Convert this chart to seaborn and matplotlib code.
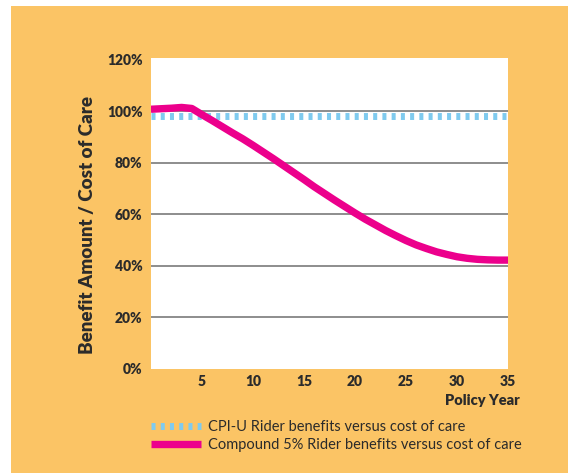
import numpy as np
import pandas as pd
import seaborn as sns
import matplotlib
matplotlib.use("Agg")
from matplotlib import pyplot as plt
from matplotlib.lines import Line2D
from matplotlib.patches import Rectangle

# data
years = list(range(0, 36))
compound_5 = [100.7, 100.9, 101.1, 101.4, 101.0, 98.6, 96.3, 93.9, 91.5, 89.2,
              86.7, 84.1, 81.5, 78.8, 76.1, 73.4, 70.6, 68.0, 65.4, 62.9,
              60.4, 58.0, 55.8, 53.6, 51.6, 49.7, 48.0, 46.6, 45.3, 44.3,
              43.4, 42.8, 42.4, 42.2, 42.1, 42.1]
cpi_u = [98.0] * len(years)
x_ticks = [5, 10, 15, 20, 25, 30, 35]
y_ticks = [0, 20, 40, 60, 80, 100, 120]
grid_vals = [20, 40, 60, 80, 100]
series_names = ["CPI-U Rider benefits versus cost of care",
                "Compound 5% Rider benefits versus cost of care"]

ORANGE = "#FBC465"
PINK = "#EC008C"
BLUE = "#7FCBEF"
TXT = "#2b2b2b"

sns.set_style("white")
plt.rcParams["font.family"] = ["Lato", "DejaVu Sans"]

df = pd.DataFrame({"year": years, "cpi": cpi_u, "comp": compound_5})

fig = plt.figure(figsize=(5.68, 4.73), dpi=100)
fig.patch.set_facecolor("white")
fig.patches.append(Rectangle((11 / 568, 0), 1, 1 - 6 / 473, transform=fig.transFigure,
                             facecolor=ORANGE, edgecolor="none", zorder=-5))

ax = fig.add_axes([151 / 568, 1 - 368.5 / 473, 357 / 568, 310.5 / 473])
ax.set_facecolor("white")

for g in grid_vals:
    ax.axhline(g, color="#7a7a7a", lw=1.2, zorder=1)

sns.lineplot(data=df, x="year", y="cpi", ax=ax, color=BLUE, lw=5.0,
             linestyle=(0, (0.58, 0.75)), zorder=2)
sns.lineplot(data=df, x="year", y="comp", ax=ax, color=PINK, lw=5.3, zorder=3,
             solid_capstyle="butt", solid_joinstyle="round")

ax.set_xlim(0, 35)
ax.set_ylim(0, 120.6)
ax.set_xticks(x_ticks)
ax.set_yticks(y_ticks)
ax.set_yticklabels([f"{v}%" for v in y_ticks])
for s in ax.spines.values():
    s.set_visible(False)
ax.tick_params(axis="x", length=0, pad=5, labelsize=10, labelcolor=TXT)
ax.tick_params(axis="y", length=3, width=1.2, color="#7a7a7a", pad=3, labelsize=10, labelcolor=TXT)
for lab in ax.get_xticklabels() + ax.get_yticklabels():
    lab.set_fontweight("heavy")
ax.set_xlabel("")
ax.set_ylabel("")

fig.text(520 / 568, 1 - 400 / 473, "Policy Year", ha="right", va="center",
         fontsize=10.5, fontweight="heavy", color=TXT)
fig.text(88 / 568, 1 - 225 / 473, "Benefit Amount / Cost of Care", rotation=90,
         ha="center", va="center", fontsize=13.5, fontweight="heavy", color=TXT)

handles = [Line2D([0], [0], color=BLUE, lw=5.0, linestyle=(0, (0.58, 0.75))),
           Line2D([0], [0], color=PINK, lw=5.3, solid_capstyle="butt")]
leg = fig.legend(handles, series_names, loc="upper left",
                 bbox_to_anchor=(138 / 568, 1 - 407 / 473), frameon=False,
                 fontsize=10.5, handlelength=3.4, handletextpad=0.5, labelspacing=0.25)
for t in leg.get_texts():
    t.set_color(TXT)

fig.savefig("out.png", dpi=100, facecolor=fig.get_facecolor())
